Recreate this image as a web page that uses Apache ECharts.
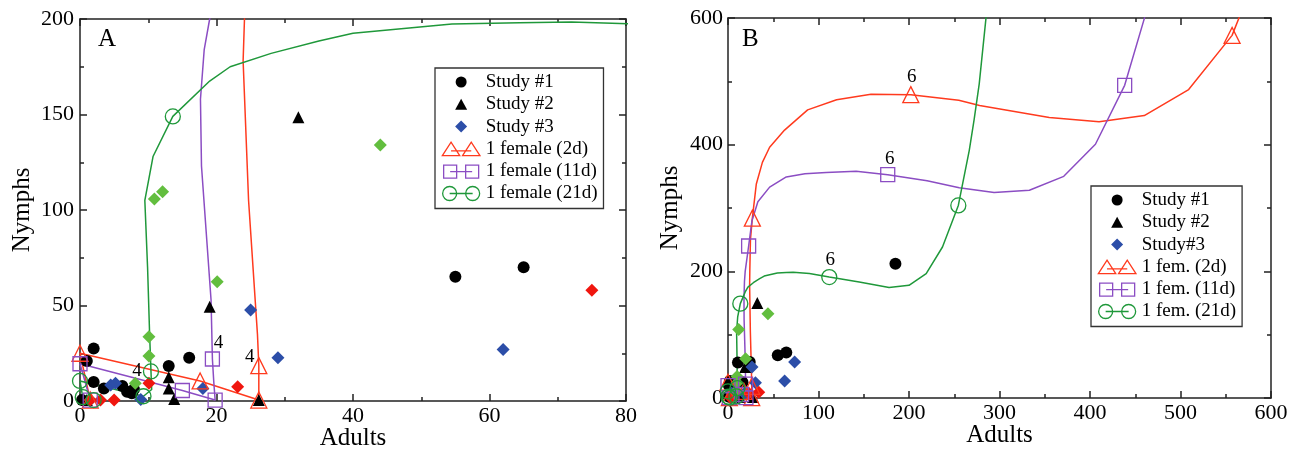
<!DOCTYPE html>
<html><head><meta charset="utf-8">
<script src="https://cdn.jsdelivr.net/npm/echarts/dist/echarts.min.js"></script>
<style>html,body{margin:0;padding:0;background:#fff}#c{width:1298px;height:452px}</style>
</head><body><div id="c"></div>
<script>
// ---------- tick labels ----------
const xTicksA = [0, 20, 40, 60, 80];
const yTicksA = [0, 50, 100, 150, 200];
const xTicksB = [0, 100, 200, 300, 400, 500, 600];
const yTicksB = [0, 200, 400, 600];

// ---------- legend names ----------
const legendNamesA = ['Study #1', 'Study #2', 'Study #3', '1 female (2d)', '1 female (11d)', '1 female (21d)'];
const legendNamesB = ['Study #1', 'Study #2', 'Study#3', '1 fem. (2d)', '1 fem. (11d)', '1 fem. (21d)'];

// ---------- model trajectories (Adults, Nymphs) ----------
const curve2d = [[1.5,0.5],[0,25],[17.6,10.5],[26.2,0.5],[26.2,18.5],[26,35],[24.7,105],[23.9,178],[24.1,200],[24.8,250],[26.9,284],[31.3,338],[38,372],[46,396],[62.5,423],[88,455],[120,471],[158,479.5],[202,479],[255,470],[278,462],[355,443],[410,436],[460,446],[509,487],[557,572.6],[566,605]];
const curve11d = [[1.5,0.5],[0,19.5],[15,5.5],[19.8,0.5],[19.6,10],[19.4,22],[19.2,53],[17.8,123],[17.65,158],[18.2,184],[19,200],[22.8,240],[26.5,280],[33,310],[46,333],[64.4,349],[85,354],[108.5,356],[141.6,358],[176.5,352.6],[220,343],[255.5,332],[294,324.3],[333,328],[371,350],[406,400.6],[438.3,493.7],[460,599],[463,615]];
const curve21d = [[2,0.5],[0.4,2],[0,10.5],[9.3,2.5],[10.5,6],[10.4,15.5],[10.2,35],[9.9,70],[9.5,105],[10.7,128],[13.6,149],[19,167.5],[22,175],[28,182],[35,188.5],[40,192.5],[54.5,197.4],[64.4,198],[72,198.4],[90,196.4],[111.9,191],[145,183.2],[178,174.3],[200,178],[219,196.4],[237,238.4],[254.5,304],[266.6,391],[272,440],[277.6,496],[285,599],[287,630]];

// marker points (one per time step) and their step labels
const markers2d = [[1.5,0.5],[0,25],[17.6,10.5],[26.2,0.5],[26.2,18.5],[26.9,284],[202,479],[557,572.6]];
const markers11d = [[1.5,0.5],[0,19.5],[15,5.5],[19.8,0.5],[19.4,22],[22.8,240],[176.5,352.6],[438.3,493.7]];
const markers21d = [[2,0.5],[0.4,2],[0,10.5],[9.3,2.5],[10.4,15.5],[13.6,149],[111.9,191],[254.5,304]];
const stepLabels2d = ['', '', '', '', '4', '', '6', ''];
const stepLabels11d = ['', '', '', '', '4', '', '6', ''];
const stepLabels21d = ['', '', '', '', '4', '', '6', ''];

// ---------- observed data, panel A ----------
const study1A = [[0.3,0.5],[2,27.5],[1,21],[2,10],[3.5,6.6],[6.2,7.9],[6.9,4.9],[7.9,6.1],[7.6,4],[13,18.3],[16,22.7],[55,65],[65,70]];
const study2A = [[1,0.5],[13,12.5],[13,6.5],[13.8,1],[19,49.4],[26.2,0.5],[32,148.5]];
const study3BlueA = [[1.5,0.5],[4.5,8.4],[5.2,9.3],[8.9,0.8],[18,6.6],[25,47.6],[29,22.7],[62,27]];
const study3GreenA = [[8.1,9.3],[10.1,23.6],[10.1,33.7],[10.9,105.8],[12.1,109.6],[20.1,62.5],[44,134]];
const study3RedA = [[1.5,0.5],[3,0.5],[5,0.5],[10.1,9.3],[23.1,7.5],[75,58]];

// ---------- observed data, panel B ----------
const study1B = [[1,2],[2,27],[1,20],[5,8],[11,56],[16,25],[24,57],[55,67.5],[64.4,71.7],[185,212]];
const study2B = [[13,1.5],[19,49],[27.6,1.5],[32.4,150]];
const study3BlueB = [[4,8],[18,7],[26.5,49],[30.3,24],[62.6,27],[73.6,57]];
const study3GreenB = [[8,9],[10,24],[10,34],[11.8,108],[19.5,62],[44.1,133]];
const study3RedB = [[3,0.5],[23,7.5],[34,9]];

// ---------- styles ----------
const FONT = '"Liberation Serif","Times New Roman",serif';
const AXIS_COLOR = '#222';
const C = {red:'#ff3a1e', purple:'#8b4dc3', green:'#1f983a', greenDia:'#62be3e', blue:'#2c4ea8', redDia:'#f0160f', black:'#000'};

function makeAxis(ticks, opts) {
  return Object.assign({
    type: 'value', min: ticks[0], max: ticks[ticks.length - 1], interval: ticks[1] - ticks[0],
    splitLine: {show: false},
    axisLine: {show: true, onZero: false, lineStyle: {color: AXIS_COLOR, width: 1.5}},
    axisTick: {show: true, inside: true, length: 7, lineStyle: {color: AXIS_COLOR, width: 1.5}},
    minorTick: {show: true, splitNumber: 2, length: 4, lineStyle: {color: AXIS_COLOR, width: 1.5}},
    axisLabel: {show: false},
    nameMoveOverlap: false
  }, opts);
}
const tickLabel = (m) => ({show: true, margin: m, fontFamily: FONT, fontSize: 22, color: '#000', showMinLabel: true, showMaxLabel: true});
const nameStyle = {fontFamily: FONT, fontSize: 25, color: '#000'};

const xAxis = [
  makeAxis(xTicksA, {gridIndex: 0, position: 'bottom', name: 'Adults', nameLocation: 'middle', nameGap: 25, nameTextStyle: nameStyle, axisLabel: tickLabel(4)}),
  makeAxis(xTicksA, {gridIndex: 0, position: 'top'}),
  makeAxis(xTicksB, {gridIndex: 1, position: 'bottom', name: 'Adults', nameLocation: 'middle', nameGap: 25, nameTextStyle: nameStyle, axisLabel: tickLabel(4)}),
  makeAxis(xTicksB, {gridIndex: 1, position: 'top'})
];
const yAxis = [
  makeAxis(yTicksA, {gridIndex: 0, position: 'left', name: 'Nymphs', nameLocation: 'middle', nameGap: 45, nameRotate: 90, nameTextStyle: nameStyle, axisLabel: tickLabel(6)}),
  makeAxis(yTicksA, {gridIndex: 0, position: 'right'}),
  makeAxis(yTicksB, {gridIndex: 1, position: 'left', name: 'Nymphs', nameLocation: 'middle', nameGap: 45, nameRotate: 90, nameTextStyle: nameStyle, axisLabel: tickLabel(5)}),
  makeAxis(yTicksB, {gridIndex: 1, position: 'right'})
];

const stepLabelOffsets = [
  {red: [-9, -9], purple: [6, -16], green: [-14, 0]},
  {red: [1, -18], purple: [2, -16], green: [1, -17]}
];
const panelStep = ['4', '6'];

const series = [];
function addPanel(p, axisIdx, names, obs) {
  const ax = {xAxisIndex: axisIdx, yAxisIndex: axisIdx};
  const models = [
    {key: 'red', name: names[3], curve: curve2d, marks: markers2d, labels: stepLabels2d, symbol: 'triangle', size: 16},
    {key: 'purple', name: names[4], curve: curve11d, marks: markers11d, labels: stepLabels11d, symbol: 'rect', size: 14},
    {key: 'green', name: names[5], curve: curve21d, marks: markers21d, labels: stepLabels21d, symbol: 'circle', size: 15}
  ];
  models.forEach(m => {
    series.push(Object.assign({type: 'line', name: m.name, data: m.curve, symbol: 'none', silent: true,
      lineStyle: {color: C[m.key], width: 1.5, opacity: 1}, itemStyle: {color: C[m.key]}, z: 2}, ax));
  });
  const scat = (name, data, symbol, size, color) => Object.assign({type: 'scatter', name, data, symbol, symbolSize: size,
    itemStyle: {color, opacity: 1}, silent: true, z: 3}, ax);
  series.push(scat(names[0], obs.s1, 'circle', 12, C.black));
  series.push(scat(names[1], obs.s2, 'triangle', 12, C.black));
  series.push(scat(names[2], obs.blue, 'diamond', 13, C.blue));
  series.push(scat('Study 3 green points ' + p, obs.green, 'diamond', 13, C.greenDia));
  series.push(scat('Study 3 red points ' + p, obs.red, 'diamond', 13, C.redDia));
  models.forEach(m => {
    const data = m.marks.map((v, i) => {
      const item = {value: v};
      if (m.labels[i] === panelStep[p]) {
        item.label = {show: true, position: 'inside', formatter: m.labels[i], offset: stepLabelOffsets[p][m.key],
          color: '#000', opacity: 1, fontFamily: FONT, fontSize: 19};
      }
      return item;
    });
    series.push(Object.assign({type: 'scatter', name: m.name, data, symbol: m.symbol, symbolSize: m.size, silent: true,
      itemStyle: {color: 'rgba(0,0,0,0)', borderColor: C[m.key], borderWidth: 1.3, opacity: 1}, label: {show: false}, z: 4}, ax));
  });
}
addPanel(0, 0, legendNamesA, {s1: study1A, s2: study2A, blue: study3BlueA, green: study3GreenA, red: study3RedA});
addPanel(1, 2, legendNamesB, {s1: study1B, s2: study2B, blue: study3BlueB, green: study3GreenB, red: study3RedB});

const ICON = {
  circle: 'path://M0 0M39 15M14 7.5A5.5 5.5 0 1 1 25 7.5A5.5 5.5 0 1 1 14 7.5Z',
  tri: 'path://M0 0M39 15M19.5 2L25.5 13L13.5 13Z',
  dia: 'path://M0 0M39 15M19.5 1.5L25.5 7.5L19.5 13.5L13.5 7.5Z',
  tri2: 'path://M0 0M39 15M0.7 14.3L9.4 0.7L18.1 14.3ZM20.9 14.3L29.6 0.7L38.3 14.3ZM9.4 9.5L29.6 9.5',
  sq2: 'path://M0 0M39 15M2 1.5L15 1.5L15 14.5L2 14.5ZM24 1.5L37 1.5L37 14.5L24 14.5ZM8.5 8L30.5 8',
  circ2: 'path://M0 0M39 15M1 7.5A7 7 0 1 1 15 7.5A7 7 0 1 1 1 7.5ZM24 7.5A7 7 0 1 1 38 7.5A7 7 0 1 1 24 7.5ZM8 7.5L31 7.5'
};
const hollow = (c) => ({color: 'rgba(0,0,0,0)', borderColor: c, borderWidth: 1.3, opacity: 1});
function legendData(names) {
  return [
    {name: names[0], icon: ICON.circle, itemStyle: {color: C.black, borderWidth: 0, opacity: 1}},
    {name: names[1], icon: ICON.tri, itemStyle: {color: C.black, borderWidth: 0, opacity: 1}},
    {name: names[2], icon: ICON.dia, itemStyle: {color: C.blue, borderWidth: 0, opacity: 1}},
    {name: names[3], icon: ICON.tri2, itemStyle: hollow(C.red)},
    {name: names[4], icon: ICON.sq2, itemStyle: hollow(C.purple)},
    {name: names[5], icon: ICON.circ2, itemStyle: hollow(C.green)}
  ];
}
const legendCommon = {orient: 'vertical', itemWidth: 39, itemHeight: 15, itemGap: 0.3, padding: [3, 6, 4, 6],
  borderColor: '#333', borderWidth: 1.3, selectedMode: false, backgroundColor: '#fff',
  textStyle: {fontFamily: FONT, fontSize: 19, color: '#000', lineHeight: 22}};

const option = {
  animation: false,
  backgroundColor: '#fff',
  grid: [
    {left: 80, top: 19, width: 546, height: 382, outerBoundsMode: 'none'},
    {left: 728, top: 18, width: 543, height: 380, outerBoundsMode: 'none'}
  ],
  xAxis, yAxis,
  legend: [
    Object.assign({left: 435, top: 68, data: legendData(legendNamesA)}, legendCommon),
    Object.assign({left: 1091, top: 186, data: legendData(legendNamesB)}, legendCommon)
  ],
  graphic: [
    {type: 'text', left: 98, top: 27, style: {text: 'A', font: '25px "Liberation Serif"', fill: '#000'}},
    {type: 'text', left: 742, top: 27, style: {text: 'B', font: '25px "Liberation Serif"', fill: '#000'}}
  ],
  series
};
const chart = echarts.init(document.getElementById('c'), null, {renderer: 'canvas'});
chart.setOption(option);
</script></body></html>
